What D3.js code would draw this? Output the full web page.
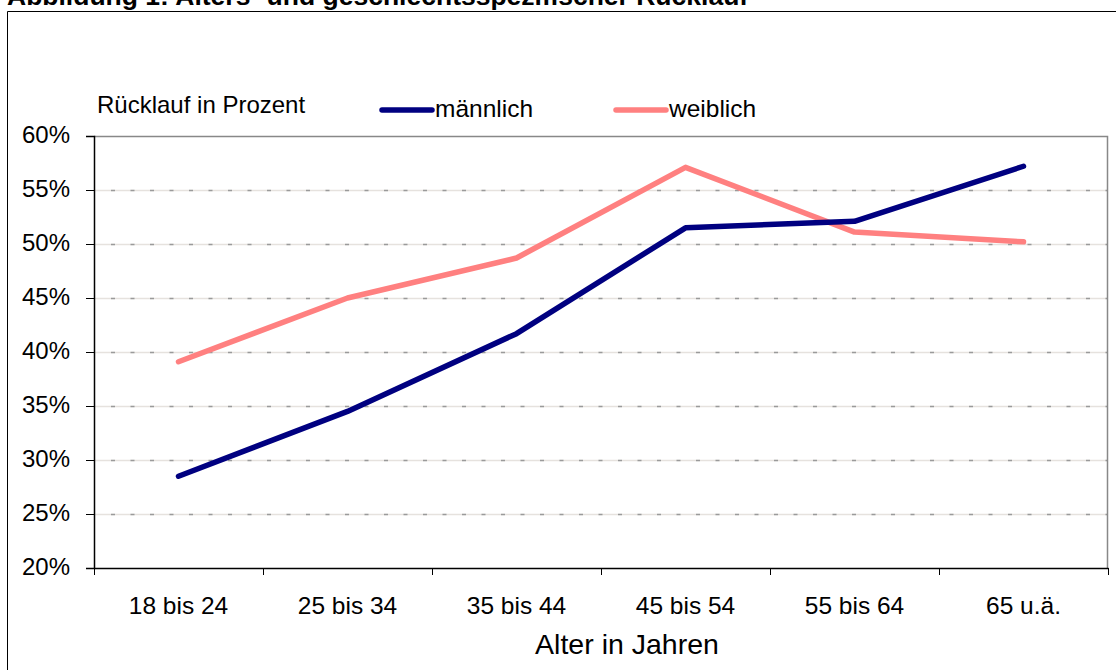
<!DOCTYPE html>
<html>
<head>
<meta charset="utf-8">
<script src="https://cdn.jsdelivr.net/npm/d3@7"></script>
<style>
  body { margin: 0; background: #fff; }
  svg { display: block; font-family: "Liberation Sans", Arial, sans-serif; }
</style>
</head>
<body>
<svg id="chart" width="1116" height="670"></svg>
<script>
const categories = ["18 bis 24", "25 bis 34", "35 bis 44", "45 bis 54", "55 bis 64", "65 u.ä."];
const maennlich = [28.5, 34.5, 41.7, 51.5, 52.1, 57.2];
const weiblich = [39.1, 45.0, 48.7, 57.1, 51.1, 50.2];
const yTicks = [20, 25, 30, 35, 40, 45, 50, 55, 60];

const svg = d3.select("#chart");
const margin = { left: 94, right: 1108, top: 136, bottom: 568 };

const x = d3.scaleBand().domain(categories).range([margin.left, margin.right]);
const y = d3.scaleLinear().domain([20, 60]).range([margin.bottom, margin.top]);

// title (mostly cut off at the top)
svg.append("text")
    .attr("x", 7).attr("y", 5)
    .style("font-size", "26.5px").style("font-weight", "bold")
    .text("Abbildung 1: Alters- und geschlechtsspezifischer Rücklauf");

// outer frame
svg.append("path")
    .attr("d", "M7.5,680 V11.5 H1120")
    .attr("fill", "none").attr("stroke", "#000").attr("stroke-width", 1);

// grid lines
const grid = svg.append("g");
yTicks.slice(1, -1).forEach(t => {
    grid.append("line")
        .attr("x1", margin.left).attr("x2", margin.right)
        .attr("y1", y(t) + 0.5).attr("y2", y(t) + 0.5)
        .attr("stroke", "#e6e2de").attr("stroke-width", 1.5);
    grid.append("line")
        .attr("x1", margin.left + 17).attr("x2", margin.right)
        .attr("y1", y(t) + 0.5).attr("y2", y(t) + 0.5)
        .attr("stroke", "#9a9a9a").attr("stroke-width", 1.5)
        .attr("stroke-dasharray", "4,15.5");
});

// plot border top/right
svg.append("path")
    .attr("d", `M${margin.left},${margin.top + 0.5} H${margin.right - 0.5} V${margin.bottom}`)
    .attr("fill", "none").attr("stroke", "#888").attr("stroke-width", 1.5);

const fontFam = "Liberation Sans, Arial, sans-serif";

// y axis
const yAxis = svg.append("g")
    .attr("transform", `translate(${margin.left},0)`)
    .call(d3.axisLeft(y).tickValues(yTicks).tickFormat(d => d + "%").tickSize(8).tickPadding(16));
yAxis.select(".domain").attr("stroke", "#000").attr("stroke-width", 1.5);
yAxis.selectAll(".tick line").attr("stroke", "#000");
yAxis.selectAll(".tick text").style("font-size", "24px").attr("fill", "#000")
    .style("font-family", fontFam).attr("dy", "0.28em");

// x axis
const xAxis = svg.append("g")
    .attr("transform", `translate(0,${margin.bottom})`)
    .call(d3.axisBottom(x).tickSize(0).tickPadding(29));
xAxis.select(".domain").attr("stroke", "#000").attr("stroke-width", 1.5);
xAxis.selectAll(".tick text").style("font-size", "24.5px").attr("fill", "#000")
    .style("font-family", fontFam);
// tick marks at band boundaries
const bounds = categories.map(c => x(c)).concat([x(categories[categories.length - 1]) + x.bandwidth()]);
svg.append("g").selectAll("line").data(bounds).join("line")
    .attr("x1", d => Math.round(d) + 0.5).attr("x2", d => Math.round(d) + 0.5)
    .attr("y1", margin.bottom).attr("y2", margin.bottom + 7)
    .attr("stroke", "#000").attr("stroke-width", 1);

// lines
const line = d3.line()
    .x((d, i) => x(categories[i]) + x.bandwidth() / 2)
    .y(d => y(d));

[[weiblich, "#ff8080"], [maennlich, "#000080"]].forEach(([vals, col]) => {
    svg.append("path")
        .datum(vals)
        .attr("d", line)
        .attr("fill", "none")
        .attr("stroke", col)
        .attr("stroke-width", 5.5)
        .attr("stroke-linecap", "round")
        .attr("stroke-linejoin", "round");
});

// y title
svg.append("text")
    .attr("x", 97).attr("y", 113)
    .style("font-size", "24px")
    .text("Rücklauf in Prozent");

// legend
const legend = [["männlich", "#000080", 382], ["weiblich", "#ff8080", 616]];
legend.forEach(([name, col, lx]) => {
    svg.append("line")
        .attr("x1", lx).attr("x2", lx + 50)
        .attr("y1", 110).attr("y2", 110)
        .attr("stroke", col).attr("stroke-width", 5.5)
        .attr("stroke-linecap", "round");
    svg.append("text")
        .attr("x", lx + 53).attr("y", 117)
        .style("font-size", "24.5px")
        .text(name);
});

// x title
svg.append("text")
    .attr("x", 627).attr("y", 654)
    .attr("text-anchor", "middle")
    .style("font-size", "28.5px")
    .text("Alter in Jahren");
</script>
</body>
</html>
